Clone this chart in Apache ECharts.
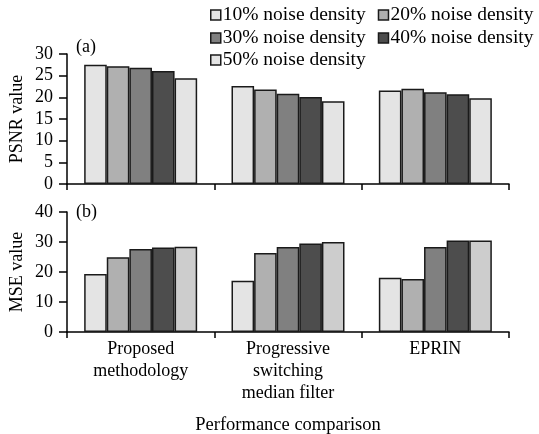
<!DOCTYPE html>
<html>
<head>
<meta charset="utf-8">
<script src="https://cdn.jsdelivr.net/npm/echarts@6/dist/echarts.min.js"></script>
<style>
    html, body { margin: 0; padding: 0; background: #fff; }
    #chart { width: 539px; height: 434px; }
</style>
</head>
<body>
<div id="chart"></div>
<script>
const categories = ['Proposed\nmethodology', 'Progressive\nswitching\nmedian filter', 'EPRIN'];
const seriesNames = ['10% noise density', '20% noise density', '30% noise density', '40% noise density', '50% noise density'];

// PSNR, one array per noise density, across the three methods
const psnr10 = [27.5, 22.6, 21.6];
const psnr20 = [27.2, 21.8, 22.0];
const psnr30 = [26.8, 20.8, 21.2];
const psnr40 = [26.1, 20.1, 20.7];
const psnr50 = [24.4, 19.1, 19.8];

// MSE
const mse10 = [19.3, 17.1, 18.1];
const mse20 = [24.9, 26.3, 17.7];
const mse30 = [27.7, 28.3, 28.3];
const mse40 = [28.2, 29.5, 30.5];
const mse50 = [28.4, 30.0, 30.5];

const psnrTicks = [0, 5, 10, 15, 20, 25, 30];
const mseTicks = [0, 10, 20, 30, 40];

const colorsTop = ['#e4e4e4', '#b0b0b0', '#808080', '#4d4d4d', '#e4e4e4'];
const colorsBottom = ['#e4e4e4', '#b0b0b0', '#808080', '#4d4d4d', '#cdcdcd'];

const font = 'Liberation Serif, Times New Roman, serif';
const ink = '#000';

const chart = echarts.init(document.getElementById('chart'));

const makeBars = (datas, colors, idx) => datas.map((d, i) => ({
    name: seriesNames[i],
    type: 'bar',
    xAxisIndex: idx,
    yAxisIndex: idx,
    data: d,
    barWidth: 22.6,
    barGap: '0%',
    itemStyle: { color: colors[i], borderColor: '#1a1a1a', borderWidth: 1.5 },
    emphasis: { disabled: true }
}));

// three legend rows, laid out like the original two-column key
const legendRow = (names, top) => ({
    data: names,
    left: 210,
    top: top,
    width: 335,
    padding: 0,
    itemWidth: 10,
    itemHeight: 10,
    itemGap: 12,
    icon: 'rect',
    textStyle: { fontFamily: font, fontSize: 19.5, lineHeight: 20, color: ink, padding: [0, 0, 0, -3] },
    itemStyle: { borderColor: '#1a1a1a', borderWidth: 1.5 }
});

const xAxisBase = {
    type: 'category',
    data: categories,
    axisLine: { lineStyle: { color: ink, width: 1.5 } },
    axisTick: { show: true, alignWithLabel: false, length: 6, lineStyle: { color: ink, width: 1.5 } },
    splitLine: { show: false }
};

const yAxisBase = (max, interval, name) => ({
    type: 'value',
    min: 0,
    max: max,
    interval: interval,
    name: name,
    nameLocation: 'middle',
    nameGap: 41,
    nameMoveOverlap: false,
    nameTextStyle: { fontFamily: font, fontSize: 18, color: ink },
    axisLine: { show: true, lineStyle: { color: ink, width: 1.5 } },
    axisTick: { show: true, length: 8, lineStyle: { color: ink, width: 1.5 } },
    axisLabel: { fontFamily: font, fontSize: 18, color: ink, margin: 14 },
    splitLine: { show: false }
});

chart.setOption({
    animation: false,
    backgroundColor: '#fff',
    legend: [
        legendRow(seriesNames.slice(0, 2), 5),
        legendRow(seriesNames.slice(2, 4), 28),
        legendRow(seriesNames.slice(4), 50)
    ],
    grid: [
        { left: 67, right: 30, top: 54, height: 130, outerBoundsMode: 'none' },
        { left: 67, right: 30, top: 212, height: 120, outerBoundsMode: 'none' }
    ],
    xAxis: [
        Object.assign({}, xAxisBase, { gridIndex: 0, axisLabel: { show: false } }),
        Object.assign({}, xAxisBase, {
            gridIndex: 1,
            name: 'Performance comparison',
            nameLocation: 'middle',
            nameGap: 84,
            nameTextStyle: { fontFamily: font, fontSize: 18.5, color: ink },
            axisLabel: { fontFamily: font, fontSize: 18, color: ink, margin: 6, lineHeight: 22, interval: 0 }
        })
    ],
    yAxis: [
        Object.assign(yAxisBase(psnrTicks[psnrTicks.length - 1], psnrTicks[1] - psnrTicks[0], 'PSNR value'), { gridIndex: 0 }),
        Object.assign(yAxisBase(mseTicks[mseTicks.length - 1], mseTicks[1] - mseTicks[0], 'MSE value'), { gridIndex: 1 })
    ],
    graphic: [
        { type: 'text', left: 76, top: 38, style: { text: '(a)', font: '18px ' + font, fill: ink } },
        { type: 'text', left: 76, top: 203, style: { text: '(b)', font: '18px ' + font, fill: ink } }
    ],
    series: makeBars([psnr10, psnr20, psnr30, psnr40, psnr50], colorsTop, 0)
        .concat(makeBars([mse10, mse20, mse30, mse40, mse50], colorsBottom, 1))
});

window.addEventListener('resize', () => chart.resize());
</script>
</body>
</html>
